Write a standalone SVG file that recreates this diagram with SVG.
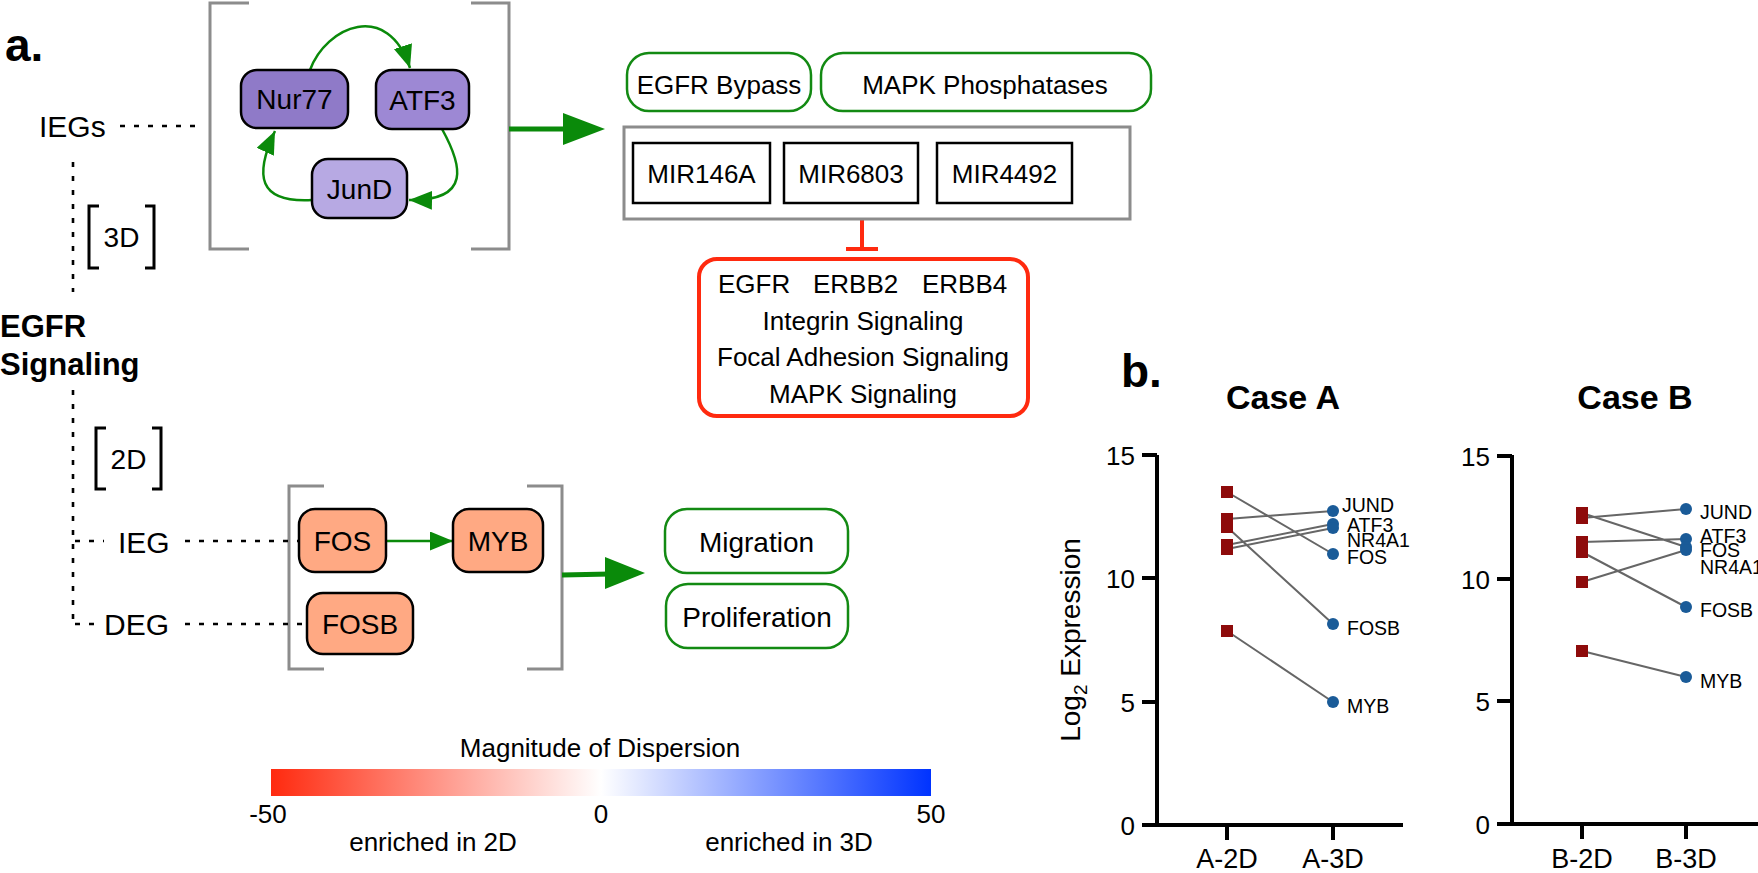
<svg xmlns="http://www.w3.org/2000/svg" width="1758" height="873" viewBox="0 0 1758 873">
<defs>
<style>
text{font-family:"Liberation Sans",Arial,sans-serif;fill:#000}
.node{stroke:#000;stroke-width:2.5}
.lbl{font-size:28px;text-anchor:middle}
.side{font-size:30px}
.box{font-size:26px;text-anchor:middle}
.gbox{fill:#fff;stroke:#138a13;stroke-width:2.5}
.mir{fill:#fff;stroke:#000;stroke-width:2.5}
.dot{stroke:#000;stroke-width:2.6;stroke-dasharray:5 9;fill:none}
.brk{fill:none;stroke:#8c8c8c;stroke-width:3}
.sbrk{fill:none;stroke:#000;stroke-width:3}
.garc{fill:none;stroke:#0a8a0a;stroke-width:2.5}
.axis{stroke:#000;stroke-width:4;fill:none}
.tick{font-size:26px;text-anchor:end}
.xl{font-size:27px;text-anchor:middle}
.gl{font-size:19.5px}
.pl{stroke:#666;stroke-width:2;fill:none}
.sq{fill:#8e0b0b}
.ci{fill:#1a5b98}
</style>
<marker id="ah" markerUnits="userSpaceOnUse" markerWidth="24" markerHeight="20" refX="23" refY="9.5" orient="auto">
<path d="M0,0 L23,9.5 L0,19 z" fill="#0a8a0a"/>
</marker>
<linearGradient id="cb" x1="0" y1="0" x2="1" y2="0">
<stop offset="0" stop-color="#ff2a0f"/>
<stop offset="0.5" stop-color="#ffffff"/>
<stop offset="1" stop-color="#0033ff"/>
</linearGradient>
</defs>
<rect width="1758" height="873" fill="#fff"/>

<text x="5" y="61" font-size="46" font-weight="bold">a.</text>
<text x="1121" y="387" font-size="46" font-weight="bold">b.</text>

<g id="brackets">
<path class="brk" d="M249,3 L210,3 L210,249 L249,249"/>
<path class="brk" d="M471,3 L509,3 L509,249 L471,249"/>
<path class="brk" d="M324,486 L289,486 L289,669 L324,669"/>
<path class="brk" d="M527,486 L562,486 L562,669 L527,669"/>
<path class="sbrk" d="M99,206 L89,206 L89,268 L99,268"/>
<path class="sbrk" d="M145,206 L154,206 L154,268 L145,268"/>
<path class="sbrk" d="M106,428 L96,428 L96,489 L106,489"/>
<path class="sbrk" d="M152,428 L161,428 L161,489 L152,489"/>
</g>

<g id="connectors">
<path class="dot" d="M120,126 L200,126"/>
<path class="dot" d="M73,162 L73,292"/>
<path class="dot" d="M73,390 L73,626"/>
<path class="dot" d="M75,541 L104,541"/>
<path class="dot" d="M75,624 L100,624"/>
<path class="dot" d="M185,541 L299,541"/>
<path class="dot" d="M185,624 L307,624"/>
<path class="garc" d="M310,70 C326,26 388,0 410,68" marker-end="url(#ah)"/>
<path class="garc" d="M442,129 C462,165 472,201 409,200" marker-end="url(#ah)"/>
<path class="garc" d="M312,200 C258,203 254,176 275,131" marker-end="url(#ah)"/>
<line x1="386" y1="541" x2="453" y2="541" class="garc" marker-end="url(#ah)"/>
<line x1="509" y1="129" x2="570" y2="129" stroke="#0a8a0a" stroke-width="5"/>
<polygon points="605,129 563,113 563,145" fill="#0a8a0a"/>
<line x1="562" y1="575" x2="610" y2="574" stroke="#0a8a0a" stroke-width="5"/>
<polygon points="645,573 605,557 605,589" fill="#0a8a0a"/>
<line x1="862" y1="219" x2="862" y2="249" stroke="#ff2a0f" stroke-width="4"/>
<line x1="846" y1="249" x2="878" y2="249" stroke="#ff2a0f" stroke-width="4"/>
</g>

<g id="label-IEGs"><text class="side" x="39" y="137">IEGs</text></g>
<g id="label-3D"><text class="lbl" x="121.5" y="247" font-size="27">3D</text></g>
<g id="label-EGFR"><text x="0" y="337" font-size="31" font-weight="bold">EGFR</text><text x="0" y="375" font-size="31" font-weight="bold">Signaling</text></g>
<g id="label-2D"><text class="lbl" x="128.5" y="469" font-size="27">2D</text></g>
<g id="label-IEG"><text class="side" x="118" y="553">IEG</text></g>
<g id="label-DEG"><text class="side" x="104" y="635">DEG</text></g>

<g id="node-Nur77"><rect class="node" x="241" y="70" width="107" height="58" rx="16" fill="#8f7ac8"/><text class="lbl" x="294.5" y="109">Nur77</text></g>
<g id="node-ATF3"><rect class="node" x="376" y="70" width="93" height="59" rx="16" fill="#9d88d4"/><text class="lbl" x="422.5" y="109.5">ATF3</text></g>
<g id="node-JunD"><rect class="node" x="312" y="159" width="95" height="59" rx="16" fill="#b7a9e3"/><text class="lbl" x="359.5" y="199">JunD</text></g>

<g id="node-EGFRBypass"><rect class="gbox" x="627" y="53" width="184" height="58" rx="22"/><text class="box" x="719" y="94">EGFR Bypass</text></g>
<g id="node-MAPKPhosphatases"><rect class="gbox" x="821" y="53" width="330" height="58" rx="22"/><text class="box" x="985" y="94">MAPK Phosphatases</text></g>

<g id="node-MIRgroup"><rect x="624" y="127" width="506" height="92" fill="none" stroke="#8c8c8c" stroke-width="3"/></g>
<g id="node-MIR146A"><rect class="mir" x="633" y="143" width="137" height="60"/><text class="box" x="701.5" y="183">MIR146A</text></g>
<g id="node-MIR6803"><rect class="mir" x="784" y="143" width="134" height="60"/><text class="box" x="851" y="183">MIR6803</text></g>
<g id="node-MIR4492"><rect class="mir" x="937" y="143" width="135" height="60"/><text class="box" x="1004.5" y="183">MIR4492</text></g>

<g id="node-targets">
<rect x="699" y="259" width="329" height="157" rx="18" fill="#fff" stroke="#ff2a0f" stroke-width="4"/>
<text font-size="26" y="293"><tspan x="718">EGFR</tspan><tspan x="813">ERBB2</tspan><tspan x="922">ERBB4</tspan></text>
<text class="box" x="863" y="330">Integrin Signaling</text>
<text class="box" x="863" y="366">Focal Adhesion Signaling</text>
<text class="box" x="863" y="403">MAPK Signaling</text>
</g>

<g id="node-FOS"><rect class="node" x="299" y="509" width="87" height="63" rx="16" fill="#ffa983"/><text class="lbl" x="342.5" y="551">FOS</text></g>
<g id="node-MYB"><rect class="node" x="453" y="509" width="90" height="63" rx="16" fill="#ffa983"/><text class="lbl" x="498" y="551">MYB</text></g>
<g id="node-FOSB"><rect class="node" x="307" y="593" width="106" height="61" rx="16" fill="#ffa983"/><text class="lbl" x="360" y="634">FOSB</text></g>

<g id="node-Migration"><rect class="gbox" x="665" y="509" width="183" height="64" rx="22"/><text class="lbl" x="756.5" y="552" font-size="30">Migration</text></g>
<g id="node-Proliferation"><rect class="gbox" x="666" y="584" width="182" height="64" rx="22"/><text class="lbl" x="757" y="627" font-size="30">Proliferation</text></g>

<g id="colorbar">
<text class="box" x="600" y="757">Magnitude of Dispersion</text>
<rect x="271" y="769" width="660" height="27" fill="url(#cb)"/>
<text class="box" x="268" y="823">-50</text>
<text class="box" x="601" y="823">0</text>
<text class="box" x="931" y="823">50</text>
<text class="box" x="433" y="851">enriched in 2D</text>
<text class="box" x="789" y="851">enriched in 3D</text>
</g>

<g id="chartA">
<text x="1283" y="409" font-size="34" font-weight="bold" text-anchor="middle">Case A</text>
<path class="axis" d="M1157,455 L1157,825 M1142,825 L1403,825 M1142,455 L1157,455 M1142,578 L1157,578 M1142,702 L1157,702 M1227,825 L1227,840 M1333,825 L1333,840"/>
<text class="tick" x="1135" y="465">15</text>
<text class="tick" x="1135" y="588">10</text>
<text class="tick" x="1135" y="712">5</text>
<text class="tick" x="1135" y="835">0</text>
<text class="xl" x="1227" y="868">A-2D</text>
<text class="xl" x="1333" y="868">A-3D</text>
<text transform="translate(1080,640) rotate(-90)" font-size="28" text-anchor="middle">Log<tspan font-size="19" dy="7">2</tspan><tspan dy="-7"> Expression</tspan></text>
<path class="pl" d="M1227,492 L1333,554 M1227,519 L1333,511 M1227,527 L1333,624 M1227,545 L1333,524 M1227,549 L1333,528 M1227,631 L1333,702"/>
<rect class="sq" x="1221" y="486" width="12" height="12"/>
<rect class="sq" x="1221" y="513" width="12" height="12"/>
<rect class="sq" x="1221" y="521" width="12" height="12"/>
<rect class="sq" x="1221" y="539" width="12" height="12"/>
<rect class="sq" x="1221" y="543" width="12" height="12"/>
<rect class="sq" x="1221" y="625" width="12" height="12"/>
<circle class="ci" cx="1333" cy="511" r="6"/>
<circle class="ci" cx="1333" cy="524" r="6"/>
<circle class="ci" cx="1333" cy="528" r="6"/>
<circle class="ci" cx="1333" cy="554" r="6"/>
<circle class="ci" cx="1333" cy="624" r="6"/>
<circle class="ci" cx="1333" cy="702" r="6"/>
<text class="gl" x="1342" y="512">JUND</text>
<text class="gl" x="1347" y="532">ATF3</text>
<text class="gl" x="1347" y="547">NR4A1</text>
<text class="gl" x="1347" y="564">FOS</text>
<text class="gl" x="1347" y="635">FOSB</text>
<text class="gl" x="1347" y="713">MYB</text>
</g>

<g id="chartB">
<text x="1635" y="409" font-size="34" font-weight="bold" text-anchor="middle">Case B</text>
<path class="axis" d="M1512,455 L1512,824 M1497,824 L1758,824 M1497,456 L1512,456 M1497,579 L1512,579 M1497,701 L1512,701 M1582,824 L1582,839 M1686,824 L1686,839"/>
<text class="tick" x="1490" y="466">15</text>
<text class="tick" x="1490" y="589">10</text>
<text class="tick" x="1490" y="711">5</text>
<text class="tick" x="1490" y="834">0</text>
<text class="xl" x="1582" y="868">B-2D</text>
<text class="xl" x="1686" y="868">B-3D</text>
<path class="pl" d="M1582,518 L1686,509 M1582,513 L1686,547 M1582,542 L1686,539 M1582,552 L1686,607 M1582,582 L1686,550 M1582,651 L1686,677"/>
<rect class="sq" x="1576" y="507" width="12" height="12"/>
<rect class="sq" x="1576" y="512" width="12" height="12"/>
<rect class="sq" x="1576" y="536" width="12" height="12"/>
<rect class="sq" x="1576" y="546" width="12" height="12"/>
<rect class="sq" x="1576" y="576" width="12" height="12"/>
<rect class="sq" x="1576" y="645" width="12" height="12"/>
<circle class="ci" cx="1686" cy="509" r="6"/>
<circle class="ci" cx="1686" cy="539" r="6"/>
<circle class="ci" cx="1686" cy="547" r="6"/>
<circle class="ci" cx="1686" cy="550" r="6"/>
<circle class="ci" cx="1686" cy="607" r="6"/>
<circle class="ci" cx="1686" cy="677" r="6"/>
<text class="gl" x="1700" y="519">JUND</text>
<text class="gl" x="1700" y="543">ATF3</text>
<text class="gl" x="1700" y="557">FOS</text>
<text class="gl" x="1700" y="574">NR4A1</text>
<text class="gl" x="1700" y="617">FOSB</text>
<text class="gl" x="1700" y="688">MYB</text>
</g>
</svg>
